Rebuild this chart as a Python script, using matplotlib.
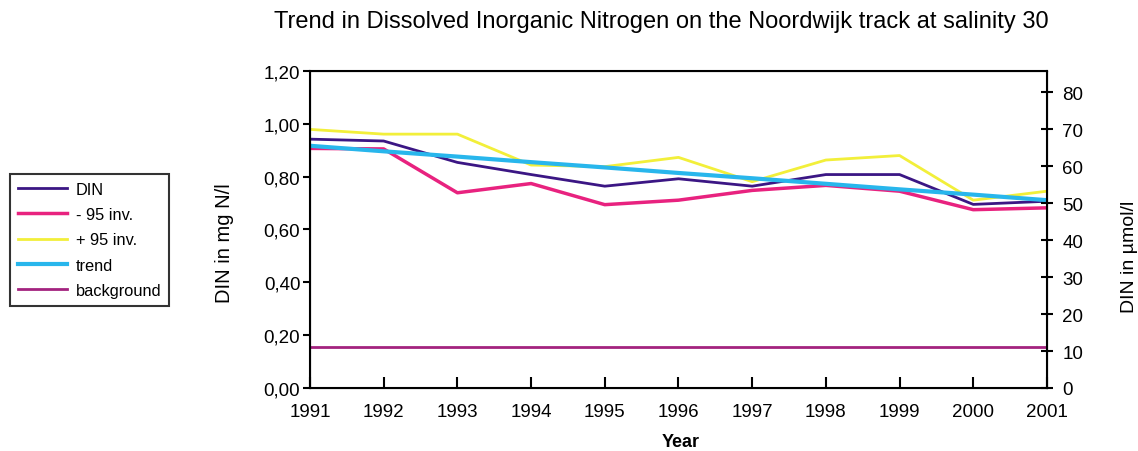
import matplotlib.pyplot as plt
from matplotlib.ticker import FuncFormatter

plt.rcParams['font.family'] = ['Liberation Sans', 'DejaVu Sans']

years = [1991, 1992, 1993, 1994, 1995, 1996, 1997, 1998, 1999, 2000, 2001]
din = [0.942, 0.935, 0.854, 0.808, 0.764, 0.792, 0.764, 0.808, 0.808, 0.695, 0.707]
lower95 = [0.907, 0.905, 0.739, 0.774, 0.694, 0.711, 0.748, 0.767, 0.745, 0.675, 0.682]
upper95 = [0.979, 0.961, 0.961, 0.844, 0.838, 0.873, 0.781, 0.863, 0.880, 0.711, 0.745]
trend = [0.917, 0.896, 0.876, 0.855, 0.835, 0.814, 0.794, 0.773, 0.752, 0.732, 0.711]
background = [0.155] * len(years)

fig = plt.figure(figsize=(11.38, 4.52), dpi=100)
ax = fig.add_axes([0.2724, 0.1394, 0.6476, 0.7013])

l1, = ax.plot(years, din, color='#3b1684', lw=2, label='DIN')
l2, = ax.plot(years, lower95, color='#e8227f', lw=2.5, label='- 95 inv.')
l3, = ax.plot(years, upper95, color='#f2ef3a', lw=2, label='+ 95 inv.')
l4, = ax.plot(years, trend, color='#28b6ec', lw=3, label='trend')
l5, = ax.plot(years, background, color='#a3237f', lw=2, label='background')

ax.set_xlim(1991, 2001)
ax.set_ylim(0, 1.2)
ax.set_xticks(years)
ax.set_yticks([0, 0.2, 0.4, 0.6, 0.8, 1.0, 1.2])
ax.yaxis.set_major_formatter(FuncFormatter(lambda v, p: f'{v:.2f}'.replace('.', ',')))
ax.tick_params(axis='x', direction='in', length=8, width=1.5, labelsize=13.5, pad=11)
ax.tick_params(axis='y', direction='out', length=5, width=1.5, labelsize=13.5, pad=2)
for s in ax.spines.values():
    s.set_linewidth(1.5)

ax2 = ax.twinx()
ax2.set_ylim(0, 1.2 * 1000 / 14)
ax2.set_yticks(range(0, 81, 10))
ax2.tick_params(axis='y', direction='inout', length=8, width=1.5, labelsize=13.5, pad=7)

# axis titles placed in figure coordinates
fig.text(0.1977, 0.4624, 'DIN in mg N/l', rotation=90, ha='center', va='center', fontsize=14.5)
fig.text(0.9921, 0.4314, 'DIN in µmol/l', rotation=90, ha='center', va='center', fontsize=14)
fig.text(0.5984, 0.02, 'Year', ha='center', va='center', fontsize=13, fontweight='bold')
fig.text(0.581, 0.951, 'Trend in Dissolved Inorganic Nitrogen on the Noordwijk track at salinity 30',
         ha='center', va='center', fontsize=17)

leg = fig.legend(handles=[l1, l2, l3, l4, l5], loc='upper left',
                 bbox_to_anchor=(0.0088, 0.6131), fontsize=11.8, frameon=True,
                 fancybox=False, edgecolor='black', handlelength=3.0,
                 handletextpad=0.5, labelspacing=0.62, borderpad=0.5,
                 borderaxespad=0)
leg.get_frame().set_linewidth(1.5)

fig.savefig('out.png', dpi=100)
